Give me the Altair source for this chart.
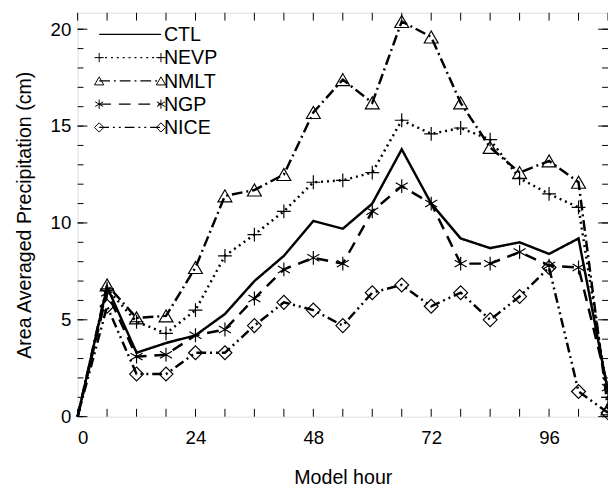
import altair as alt
import pandas as pd

# ---- data ----
hours = [0, 6, 12, 18, 24, 30, 36, 42, 48, 54, 60, 66, 72, 78, 84, 90, 96, 102, 108]
CTL = [0, 6.7, 3.3, 3.8, 4.2, 5.3, 7.0, 8.3, 10.1, 9.7, 11.0, 13.8, 11.0, 9.2, 8.7, 9.0, 8.4, 9.2, 1.3]
NEVP = [0, 6.6, 4.9, 4.3, 5.5, 8.3, 9.4, 10.6, 12.1, 12.2, 12.6, 15.3, 14.6, 14.9, 14.3, 12.3, 11.5, 10.8, 1.0]
NMLT = [0, 6.8, 5.1, 5.2, 7.7, 11.4, 11.7, 12.5, 15.7, 17.4, 16.2, 20.4, 19.6, 16.2, 13.9, 12.6, 13.2, 12.1, 0.4]
NGP = [0, 6.4, 3.1, 3.2, 4.2, 4.5, 6.1, 7.6, 8.2, 7.9, 10.6, 11.9, 11.0, 7.9, 7.9, 8.5, 7.8, 7.7, 1.5]
NICE = [0, 5.7, 2.2, 2.2, 3.3, 3.3, 4.7, 5.9, 5.5, 4.7, 6.4, 6.8, 5.7, 6.4, 5.0, 6.2, 7.7, 1.3, 0.2]

series_names = ["CTL", "NEVP", "NMLT", "NGP", "NICE"]
series_values = [CTL, NEVP, NMLT, NGP, NICE]

x_tick_labels = [0, 24, 48, 72, 96]
x_minor_ticks = [0, 6, 12, 18, 24, 30, 36, 42, 48, 54, 60, 66, 72, 78, 84, 90, 96, 102, 108]
y_tick_labels = [0, 5, 10, 15, 20]
y_minor_ticks = [0, 1, 2, 3, 4, 5, 6, 7, 8, 9, 10, 11, 12, 13, 14, 15, 16, 17, 18, 19, 20]

# ---- styles ----
W, H = 541, 412
FONT = "Liberation Sans"
dashes = {"CTL": [1, 0], "NEVP": [2, 4], "NMLT": [11, 4, 2, 4], "NGP": [12, 8], "NICE": [10, 4, 2, 4, 2, 4]}
PLUS = "M-1,0L1,0M0,-1L0,1"
STAR = "M0,-1L0,1M-0.866,-0.5L0.866,0.5M-0.866,0.5L0.866,-0.5"
shapes = {"NEVP": PLUS, "NMLT": "triangle-up", "NGP": STAR, "NICE": "diamond"}

rows = []
for name, vals in zip(series_names, series_values):
    for h, v in zip(hours, vals):
        rows.append({"series": name, "hour": h, "precip": v})
df = pd.DataFrame(rows)

xscale = alt.Scale(domain=[0, 108], nice=False, zero=False)
yscale = alt.Scale(domain=[0, 20.85], nice=False, zero=False)

xaxis = alt.Axis(values=x_tick_labels, tickSize=0, ticks=False, domain=False, grid=False,
                 labelFontSize=19, labelPadding=12, labelFont=FONT, labelColor="black",
                 titleFontSize=20, titleFont=FONT, titleFontWeight="normal", titlePadding=21,
                 titleColor="black")
yaxis = alt.Axis(values=y_tick_labels, tickSize=0, ticks=False, domain=False, grid=False,
                 labelFontSize=19, labelPadding=7, labelFont=FONT, labelColor="black",
                 titleFontSize=20, titleFont=FONT, titleFontWeight="normal", titlePadding=16,
                 titleColor="black")


def X(field="hour"):
    return alt.X(f"{field}:Q", scale=xscale, axis=xaxis, title="Model hour")


def Y(field="precip"):
    return alt.Y(f"{field}:Q", scale=yscale, axis=yaxis, title="Area Averaged Precipitation (cm)")


dash_scale = alt.Scale(domain=series_names, range=[dashes[s] for s in series_names])
marker_names = [s for s in series_names if s in shapes]
shape_scale = alt.Scale(domain=marker_names, range=[shapes[s] for s in marker_names])

lines = alt.Chart(df).mark_line(color="black", strokeWidth=2.5).encode(
    x=X(), y=Y(),
    detail="series:N",
    strokeDash=alt.StrokeDash("series:N", scale=dash_scale, legend=None),
)

points = alt.Chart(df).transform_filter(
    alt.FieldOneOfPredicate(field="series", oneOf=marker_names)
).transform_filter(
    alt.datum.hour > 0
).mark_point(filled=False, color="black", strokeWidth=1.2, size=200, opacity=1).encode(
    x=X(), y=Y(),
    shape=alt.Shape("series:N", scale=shape_scale, legend=None),
)

# inward ticks on all four sides
xt = pd.DataFrame({"hour": x_minor_ticks})
ytm = pd.DataFrame({"precip": y_minor_ticks})
ytM = pd.DataFrame({"precip": y_tick_labels})
tick_style = dict(color="black", strokeWidth=1)
bottom_ticks = alt.Chart(xt).mark_rule(**tick_style).encode(x=X(), y=alt.value(H), y2=alt.value(H - 8))
top_ticks = alt.Chart(xt).mark_rule(**tick_style).encode(x=X(), y=alt.value(0), y2=alt.value(8))
left_minor = alt.Chart(ytm).mark_rule(**tick_style).encode(y=Y(), x=alt.value(0), x2=alt.value(6))
left_major = alt.Chart(ytM).mark_rule(**tick_style).encode(y=Y(), x=alt.value(0), x2=alt.value(10))
right_minor = alt.Chart(ytm).mark_rule(**tick_style).encode(y=Y(), x=alt.value(W), x2=alt.value(W - 6))
right_major = alt.Chart(ytM).mark_rule(**tick_style).encode(y=Y(), x=alt.value(W), x2=alt.value(W - 10))

# manual legend (top-left, inside plot)
legend_layers = []
LX0, LX1, LY0, LDY = 22, 85, 22, 23.75
for i, name in enumerate(series_names):
    one = pd.DataFrame({"series": [name]})
    py = LY0 + LDY * i
    legend_layers.append(
        alt.Chart(one).mark_rule(color="black", strokeWidth=1.3, strokeDash=dashes[name]).encode(
            x=alt.value(LX0), x2=alt.value(LX1), y=alt.value(py))
    )
    if name in shapes:
        for lx in (LX0, LX1):
            legend_layers.append(
                alt.Chart(one).mark_point(shape=shapes[name], filled=False, color="black",
                                          strokeWidth=1, size=90, opacity=1).encode(
                    x=alt.value(lx), y=alt.value(py))
            )
    legend_layers.append(
        alt.Chart(one).mark_text(align="left", baseline="middle", fontSize=20, font=FONT,
                                 color="black").encode(
            x=alt.value(LX1 + 3), y=alt.value(py + 1), text="series:N")
    )

chart = alt.layer(
    lines, points, bottom_ticks, top_ticks, left_minor, left_major, right_minor, right_major,
    *legend_layers
).properties(
    width=W, height=H,
    autosize=alt.AutoSizeParams(type="none"),
    padding={"left": 71, "top": 0, "right": 0, "bottom": 72},
).configure_view(
    stroke="black", strokeWidth=1.5
).configure(background="white")

chart.save("out.html", embed_options={"renderer": "svg", "actions": False})
